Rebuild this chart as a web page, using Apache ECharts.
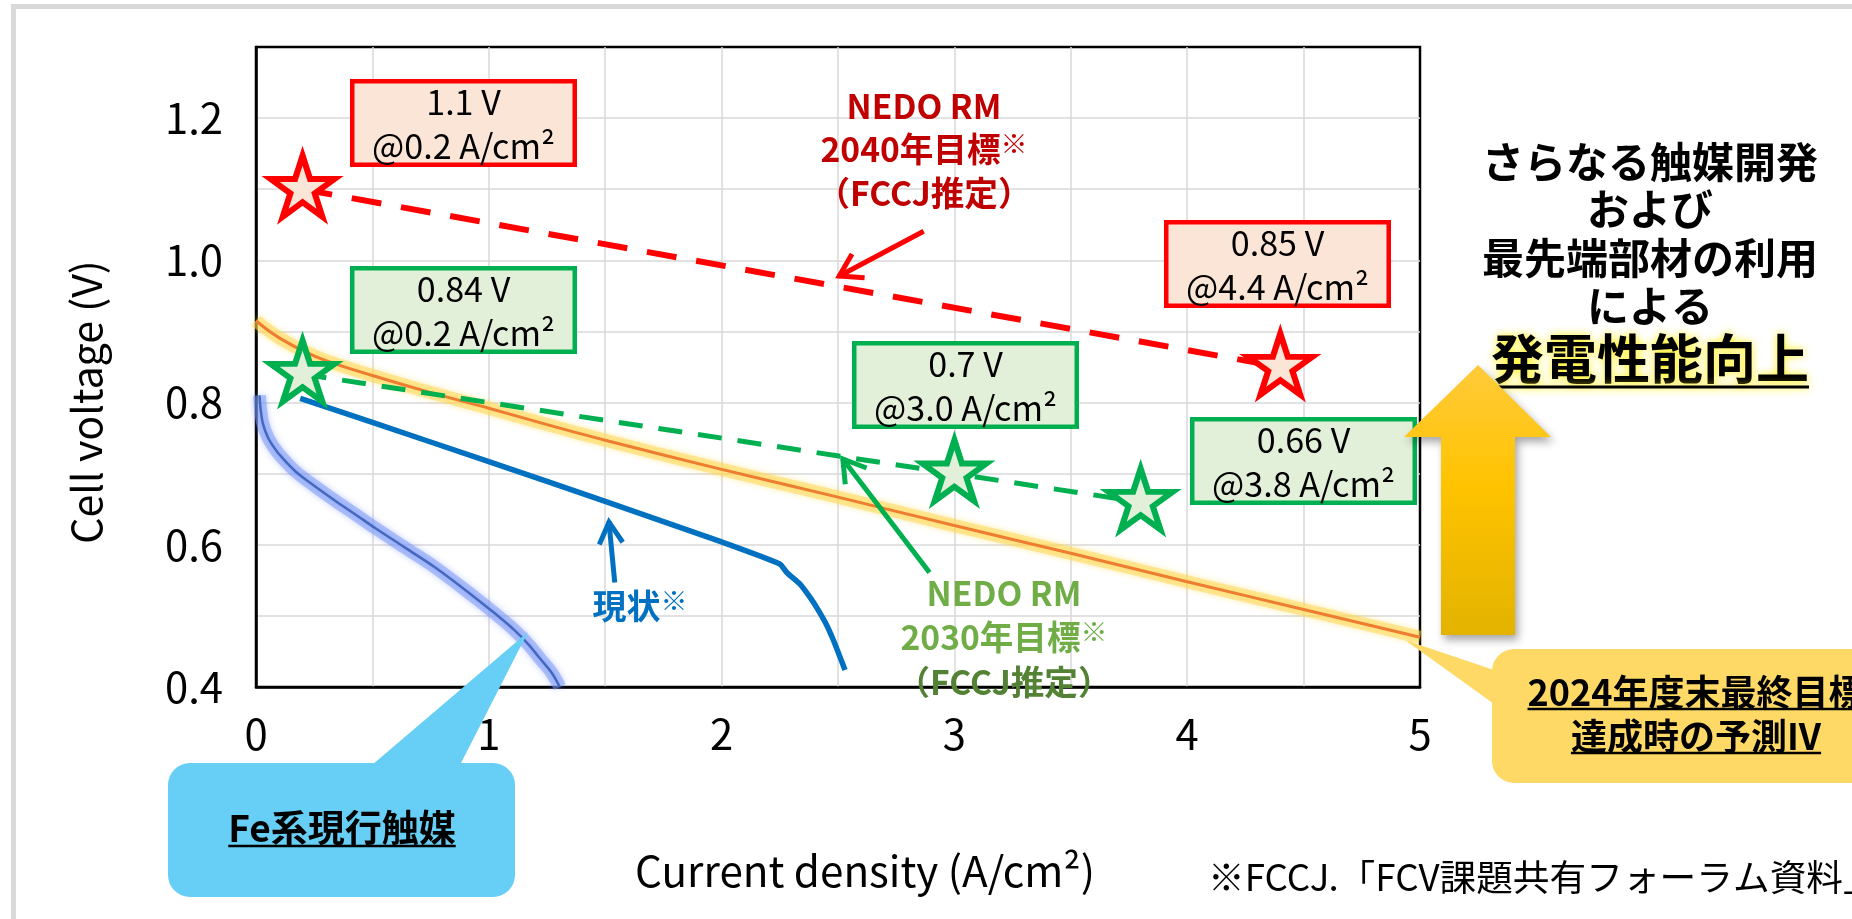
<!DOCTYPE html>
<html lang="ja">
<head>
<meta charset="utf-8">
<title>Cell voltage vs current density</title>
<script src="https://cdn.jsdelivr.net/npm/echarts@6.0.0/dist/echarts.min.js"></script>
<style>
  html, body { margin: 0; padding: 0; background: #fff; }
  #chart { width: 1852px; height: 919px; }
</style>
</head>
<body>
<div id="chart"></div>
<script>
// ---- data ---------------------------------------------------------------
const xTickLabels = ['0', '1', '2', '3', '4', '5'];
const yTickLabels = ['0.4', '0.6', '0.8', '1.0', '1.2'];

// Fe-based catalyst in use today (A/cm2, V)
const feCatalystIV = [
  [0.015, 0.810], [0.020, 0.790], [0.030, 0.770], [0.050, 0.752], [0.075, 0.738],
  [0.10, 0.727], [0.17, 0.703], [0.25, 0.683], [0.34, 0.662], [0.43, 0.642],
  [0.51, 0.624], [0.64, 0.596], [0.77, 0.568], [0.94, 0.526], [1.02, 0.505],
  [1.11, 0.480], [1.17, 0.460], [1.22, 0.440], [1.27, 0.420], [1.305, 0.400]
];
// present state
const presentIV = [
  [0.19, 0.806], [0.5, 0.772], [1.0, 0.717], [1.5, 0.661], [2.0, 0.604],
  [2.25, 0.573], [2.28, 0.561], [2.336, 0.545], [2.38, 0.526], [2.41, 0.511],
  [2.45, 0.488], [2.48, 0.466], [2.53, 0.424]
];
// predicted IV once the FY2024 final target is reached
const target2024IV = [
  [0, 0.915], [0.05, 0.902], [0.1, 0.891], [0.2, 0.873], [0.3, 0.859],
  [0.5, 0.838], [0.75, 0.814], [1.0, 0.792], [1.25, 0.769], [1.5, 0.747],
  [2.0, 0.706], [2.5, 0.667], [3.0, 0.627], [3.5, 0.588], [4.0, 0.548],
  [4.5, 0.509], [5.0, 0.470]
];
// NEDO roadmap targets (FCCJ estimate): [current density, cell voltage]
const nedo2040Targets = [[0.2, 1.1], [4.4, 0.85]];
const nedo2030Targets = [[0.2, 0.84], [3.0, 0.70], [3.8, 0.66]];

// ---- look ---------------------------------------------------------------
const FONT = '"Noto Sans CJK JP", "Noto Sans", sans-serif';
const STAR = 'path://M50,0L61.2,34.6L97.6,34.6L68.1,55.9L79.4,90.5L50,69.1L20.6,90.5L31.9,55.9L2.4,34.6L38.8,34.6Z';

const measureCtx = document.createElement('canvas').getContext('2d');
function textWidth(str, size, weight) {
  measureCtx.font = (weight || 'normal') + ' ' + size + 'px ' + FONT;
  return measureCtx.measureText(str).width;
}
// font size at which a string takes up the given width
function fitSize(str, width, weight) {
  return Math.round(width / textWidth(str, 100, weight) * 1000) / 10;
}

const TICK_SIZE = fitSize('1.2', 58);
const BOX_SIZE = fitSize('@0.2 A/cm²', 183);
const Y_TITLE_SIZE = fitSize('Cell voltage (V)', 284);
const X_TITLE_SIZE = fitSize('Current density (A/cm²)', 460);
const NOTE_SIZE = fitSize('※FCCJ.「FCV課題共有フォーラム資料', 636);
const RM_SIZE = fitSize('NEDO RM', 155, 'bold');

const chart = echarts.init(document.getElementById('chart'), null, { renderer: 'canvas' });

const lineBase = { type: 'line', showSymbol: false, symbol: 'none', silent: true };

chart.setOption({
  backgroundColor: '#ffffff',
  animation: false,
  grid: { left: 256, right: 432, top: 47, bottom: 232, show: true,
          borderColor: '#000', borderWidth: 2.5, backgroundColor: 'transparent' },
  xAxis: {
    type: 'value', min: 0, max: 5, interval: 0.5,
    axisLine: { show: true, onZero: false, lineStyle: { color: '#000', width: 2.5 } },
    axisTick: { show: false },
    splitLine: { show: true, showMinLine: false, showMaxLine: false,
                 lineStyle: { color: '#D9D9D9', width: 1.5 } },
    axisLabel: {
      margin: 26, fontSize: TICK_SIZE, fontFamily: FONT, color: '#000',
      formatter: v => { const i = Math.round(v * 2); return i % 2 === 0 ? (xTickLabels[i / 2] || '') : ''; }
    }
  },
  yAxis: {
    type: 'value', min: 0.4, max: 1.3, interval: 0.1,
    axisLine: { show: true, onZero: false, lineStyle: { color: '#000', width: 2.5 } },
    axisTick: { show: false },
    splitLine: { show: true, showMinLine: false, showMaxLine: false,
                 lineStyle: { color: '#D9D9D9', width: 1.5 } },
    axisLabel: {
      margin: 33, fontSize: TICK_SIZE, fontFamily: FONT, color: '#000',
      formatter: v => { const k = Math.round(v * 10) - 4; return k % 2 === 0 ? (yTickLabels[k / 2] || '') : ''; }
    }
  },
  series: [
    Object.assign({}, lineBase, { name: 'Fe glow', data: feCatalystIV, smooth: 0.35, z: 2,
      lineStyle: { color: 'rgba(120,150,245,0.5)', width: 13, shadowColor: 'rgba(110,140,255,0.8)', shadowBlur: 6 } }),
    Object.assign({}, lineBase, { name: 'Fe系現行触媒', data: feCatalystIV, smooth: 0.35, z: 3,
      lineStyle: { color: '#4468C0', width: 2.5 } }),
    Object.assign({}, lineBase, { name: 'target glow', data: target2024IV, smooth: 0.3, z: 2,
      lineStyle: { color: 'rgba(255,214,80,0.5)', width: 13, shadowColor: 'rgba(255,215,60,0.8)', shadowBlur: 6 } }),
    Object.assign({}, lineBase, { name: '2024年度末最終目標達成時の予測IV', data: target2024IV, smooth: 0.3, z: 3,
      lineStyle: { color: '#ED7D31', width: 3 } }),
    Object.assign({}, lineBase, { name: '現状', data: presentIV, smooth: 0.2, z: 4,
      lineStyle: { color: '#0070C0', width: 5.5 } }),
    Object.assign({}, lineBase, { name: 'NEDO RM 2030', data: nedo2030Targets, z: 5,
      lineStyle: { color: '#00B050', width: 5, type: [24, 16] } }),
    Object.assign({}, lineBase, { name: 'NEDO RM 2040', data: nedo2040Targets, z: 5,
      lineStyle: { color: '#FF0000', width: 6, type: [30, 20] } }),
    { type: 'scatter', name: '2030 targets', data: nedo2030Targets, symbol: STAR,
      symbolSize: [64, 61], symbolOffset: [0, -3], z: 6, silent: true,
      itemStyle: { color: '#E2F0D9', borderColor: '#00B050', borderWidth: 6, opacity: 1 } },
    { type: 'scatter', name: '2040 targets', data: nedo2040Targets, symbol: STAR,
      symbolSize: [64, 61], symbolOffset: [0, -3], z: 6, silent: true,
      itemStyle: { color: '#FBE5D6', borderColor: '#FF0000', borderWidth: 6, opacity: 1 } }
  ]
});

// ---- annotations --------------------------------------------------------
function text(x, y, str, size, opts) {
  opts = opts || {};
  return {
    type: 'text', x: x, y: y, z: opts.z || 20, silent: true, rotation: opts.rotation || 0,
    style: Object.assign({
      text: str, fill: opts.color || '#000', fontFamily: FONT, fontSize: size,
      fontWeight: opts.weight || 'normal', align: opts.align || 'center', verticalAlign: 'middle'
    }, opts.style || {})
  };
}
function underline(cx, y, width, color, extra) {
  return { type: 'line', z: 21, silent: true,
    shape: { x1: cx - width / 2, y1: y, x2: cx + width / 2, y2: y },
    style: Object.assign({ stroke: color || '#000', lineWidth: 2.5 }, extra || {}) };
}
// label line ending in a small raised reference mark
function markedLine(x, y, main, size, color) {
  return {
    type: 'text', x: x, y: y, z: 20, silent: true,
    style: {
      text: '{m|' + main + '}{s|※}', align: 'center', verticalAlign: 'middle',
      rich: {
        m: { fontFamily: FONT, fontSize: size, fontWeight: 'bold', fill: color, color: color },
        s: { fontFamily: FONT, fontSize: Math.round(size * 0.8), fontWeight: 'bold', fill: color, color: color,
             verticalAlign: 'top', padding: [0, 0, Math.round(size * 0.3), 0] }
      }
    }
  };
}

// boxes stating each target value (top-left corner in pixels)
const box2040 = [[350, 79], [1164, 220]];
const box2030 = [[350, 266], [852, 341], [1190, 417]];
const BOX_W = 227, BOX_H = 88, BOX_LW = 4.5;

function valueBox(pos, target, fill, stroke) {
  const [x0, y0] = pos;
  const cx = x0 + BOX_W / 2;
  return [
    { type: 'rect', z: 15, silent: true,
      shape: { x: x0 + BOX_LW / 2, y: y0 + BOX_LW / 2, width: BOX_W - BOX_LW, height: BOX_H - BOX_LW },
      style: { fill: fill, stroke: stroke, lineWidth: BOX_LW } },
    text(cx, y0 + 23, String(target[1]) + ' V', BOX_SIZE),
    text(cx, y0 + 67, '@' + target[0].toFixed(1) + ' A/cm²', BOX_SIZE)
  ];
}

function arrow(P, tail, head, color, width, leg, ang) {
  const t = P(tail), h = P(head);
  const dx = h[0] - t[0], dy = h[1] - t[1], L = Math.hypot(dx, dy);
  const ux = dx / L, uy = dy / L;
  const rot = a => [h[0] - leg * (ux * Math.cos(a) - uy * Math.sin(a)),
                    h[1] - leg * (ux * Math.sin(a) + uy * Math.cos(a))];
  return [
    { type: 'line', z: 18, silent: true,
      shape: { x1: t[0], y1: t[1], x2: h[0] - ux * 2, y2: h[1] - uy * 2 },
      style: { stroke: color, lineWidth: width } },
    { type: 'polyline', z: 18, silent: true,
      shape: { points: [rot(ang), [h[0] - ux * 3, h[1] - uy * 3], rot(-ang)] },
      style: { stroke: color, lineWidth: width, fill: null, lineJoin: 'miter' } }
  ];
}

function buildAnnotations() {
  const P = pt => chart.convertToPixel({ gridIndex: 0 }, pt);
  const els = [];

  // light frame around the figure
  els.push({ type: 'rect', z: 1, silent: true,
    shape: { x: 13.5, y: 6.5, width: 1900, height: 1000 },
    style: { fill: null, stroke: '#D9D9D9', lineWidth: 5 } });

  // axis titles
  els.push(text(86, 402, 'Cell voltage (V)', Y_TITLE_SIZE, { rotation: Math.PI / 2 }));
  els.push(text(865, 871, 'Current density (A/cm²)', X_TITLE_SIZE));

  // value boxes
  nedo2040Targets.forEach((t, i) => els.push(...valueBox(box2040[i], t, '#FBE5D6', '#FF0000')));
  nedo2030Targets.forEach((t, i) => els.push(...valueBox(box2030[i], t, '#E2F0D9', '#00B050')));

  // NEDO RM 2040 label and pointer
  els.push(text(924, 106, 'NEDO RM', RM_SIZE, { weight: 'bold', color: '#C00000' }));
  els.push(markedLine(924, 149, '2040年目標', RM_SIZE, '#C00000'));
  els.push(text(924, 193, '（FCCJ推定）', RM_SIZE, { weight: 'bold', color: '#C00000' }));
  els.push(...arrow(P, [2.868, 1.041], [2.494, 0.976], '#FF0000', 5, 28, 0.5));

  // NEDO RM 2030 label and pointer
  els.push(text(1004, 593, 'NEDO RM', RM_SIZE, { weight: 'bold', color: '#70AD47' }));
  els.push(markedLine(1004, 637, '2030年目標', RM_SIZE, '#70AD47'));
  els.push(text(1004, 682, '（FCCJ推定）', RM_SIZE, { weight: 'bold', color: '#548235' }));
  els.push(...arrow(P, [2.893, 0.561], [2.513, 0.724], '#00B050', 5, 28, 0.5));

  // present state label and pointer
  els.push(markedLine(640, 606, '現状', 34, '#0070C0'));
  els.push(...arrow(P, [1.541, 0.547], [1.515, 0.636], '#0070C0', 5, 27, 0.45));

  // Fe catalyst callout
  els.push({ type: 'polygon', z: 14, silent: true,
    shape: { points: [[372, 765], [528, 632], [460, 765]] }, style: { fill: '#67CEF5' } });
  els.push({ type: 'rect', z: 14, silent: true,
    shape: { x: 168, y: 763, width: 347, height: 134, r: 22 }, style: { fill: '#67CEF5' } });
  const feLabel = 'Fe系現行触媒';
  els.push(text(342, 828, feLabel, 37, { weight: 'bold' }));
  els.push(underline(342, 846, textWidth(feLabel, 37, 'bold')));

  // FY2024 target callout
  els.push({ type: 'polygon', z: 14, silent: true,
    shape: { points: [[1494, 670], [1405, 640], [1494, 704]] }, style: { fill: '#FFD966' } });
  els.push({ type: 'rect', z: 14, silent: true,
    shape: { x: 1492, y: 649, width: 420, height: 134, r: 22 }, style: { fill: '#FFD966' } });
  const tLine1 = '2024年度末最終目標', tLine2 = '達成時の予測IV';
  els.push(text(1696, 692, tLine1, 36, { weight: 'bold' }));
  els.push(underline(1696, 709, textWidth(tLine1, 36, 'bold')));
  els.push(text(1696, 736, tLine2, 36, { weight: 'bold' }));
  els.push(underline(1696, 753, textWidth(tLine2, 36, 'bold')));

  // big upward arrow
  els.push({ type: 'polygon', z: 22, silent: true,
    shape: { points: [[1478, 365], [1551, 437], [1515, 437], [1515, 635], [1441, 635], [1441, 437], [1404, 437]] },
    style: {
      fill: new echarts.graphic.LinearGradient(0, 0, 0, 1, [
        { offset: 0, color: '#FFCB3A' }, { offset: 0.45, color: '#FFC300' }, { offset: 1, color: '#E3B300' }
      ]),
      shadowBlur: 8, shadowOffsetX: 3, shadowOffsetY: 5, shadowColor: 'rgba(0,0,0,0.35)'
    } });

  // message on the right
  els.push(text(1650, 162, 'さらなる触媒開発', 42, { weight: 'bold' }));
  els.push(text(1650, 209, 'および', 42, { weight: 'bold' }));
  els.push(text(1650, 258, '最先端部材の利用', 42, { weight: 'bold' }));
  els.push(text(1650, 306, 'による', 42, { weight: 'bold' }));
  const headline = '発電性能向上';
  els.push(text(1650, 359, headline, 53, { weight: 'bold',
    style: { textShadowColor: 'rgba(255,238,0,0.95)', textShadowBlur: 9 } }));
  els.push(underline(1650, 387, textWidth(headline, 53, 'bold'), '#000',
    { lineWidth: 3, shadowColor: 'rgba(255,238,0,0.95)', shadowBlur: 8 }));

  // source note
  els.push(text(1208, 877, '※FCCJ.「FCV課題共有フォーラム資料」', NOTE_SIZE, { align: 'left' }));

  chart.setOption({ graphic: { elements: els } });
}

buildAnnotations();
</script>
</body>
</html>
